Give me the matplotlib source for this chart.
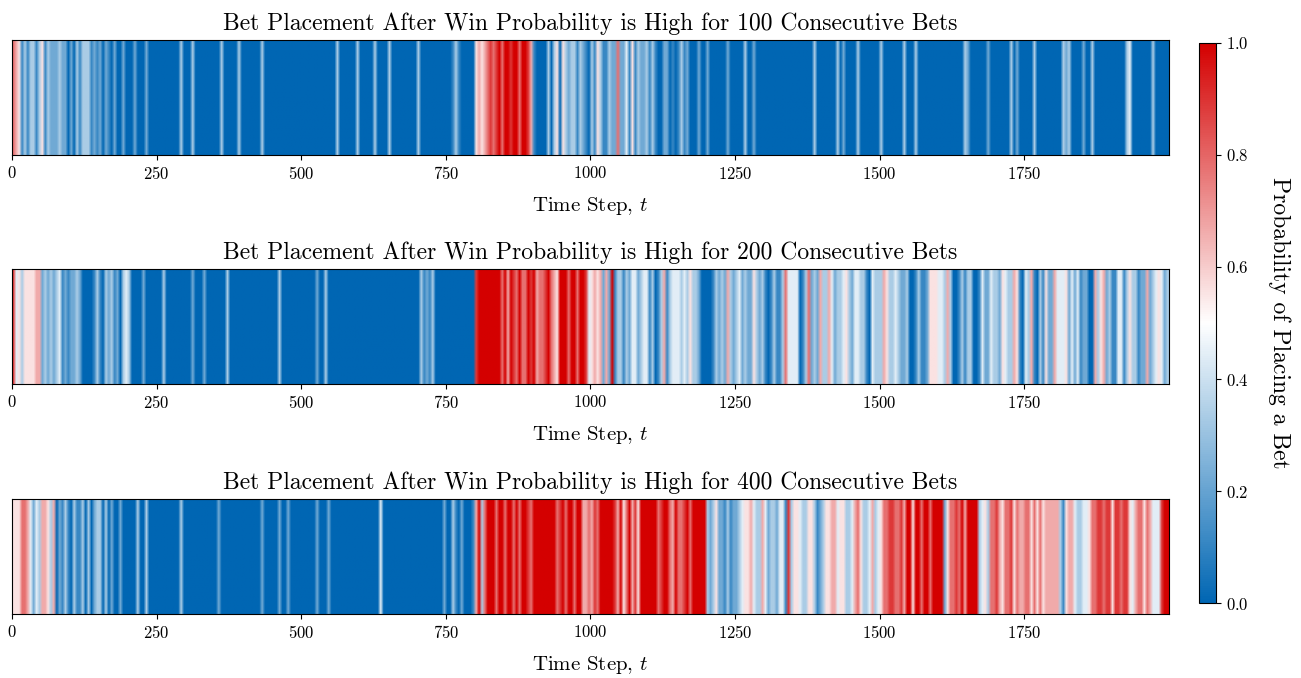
import numpy as np
import matplotlib
matplotlib.use("Agg")
import matplotlib.pyplot as plt
from matplotlib.colors import LinearSegmentedColormap

plt.rcParams['font.family'] = 'serif'
plt.rcParams['font.serif'] = ['cmr10']
plt.rcParams['mathtext.fontset'] = 'cm'
plt.rcParams['axes.formatter.use_mathtext'] = True

# Bet probability per block of 5 time steps, digit d -> d/9
# one string per 250-step stretch
streak_100 = [
    "76513133135132223220203133312120210200200020002000",
    "00000000300030000000003000003000000030000000000000",
    "00000000000030000003000003000030000000003000000000",
    "00131000005656787897998997998610000303505323313210",
    "31531132272241513223131002201013120002002000000200",
    "00030020000000000000000000030000000302000030000000",
    "30000000300030000000000000000320000002000000030200",
    "00030000000003230000200300000000000340000000300000",
]
streak_200 = [
    "84535555662323234121223200001310323120343000020000",
    "00300000000020002000000030000000000000000030000000",
    "00000200300000000000000000000000000000000312130000",
    "00000000008999999997969879779896778976599979979984",
    "56562629133132442344130136134443435332000013232632",
    "34232253231013113744440137232633642334532443310433",
    "36533432230013112555443630013133001422433254336510",
    "43610315226444524241220063562311441353312262345423",
]
streak_400 = [
    "55577642436653602131031130302330302002000003003000",
    "00000000300000000000020000000000000020000020020000",
    "00000200020000000000000000040000000000000000000002",
    "00310200016937999799799797998799999999789799799667",
    "68799999869579685999999789976977897999993235221312",
    "23455643364233244183554335531235566455334675334634",
    "57788778699599799799992577879699993453778657785766",
    "77575756666631566433445778878858878854677576444899",
]
titles = [
    "Bet Placement After Win Probability is High for 100 Consecutive Bets",
    "Bet Placement After Win Probability is High for 200 Consecutive Bets",
    "Bet Placement After Win Probability is High for 400 Consecutive Bets",
]
n_steps = 2000
xticks = [0, 250, 500, 750, 1000, 1250, 1500, 1750]

cmap = LinearSegmentedColormap.from_list('bet', ['#0066b3', '#ffffff', '#d40000'])

fig = plt.figure(figsize=(13.01, 6.78), dpi=100)
bottoms = [0.7714, 0.4336, 0.0944]

for rows, title, b in zip([streak_100, streak_200, streak_400], titles, bottoms):
    vals = np.array([int(c) for c in ''.join(rows)]) / 9.0
    ax = fig.add_axes([0.0092, b, 0.8893, 0.1696])
    im = ax.imshow(vals[np.newaxis, :], aspect='auto', cmap=cmap, vmin=0, vmax=1,
                   extent=(0, n_steps, 0, 1), interpolation='bilinear')
    ax.set_xlim(0, n_steps)
    ax.set_xticks(xticks)
    ax.set_yticks([])
    ax.tick_params(labelsize=12, pad=4)
    ax.set_title(title, fontsize=17, pad=7)
    ax.set_xlabel('Time Step, $t$', fontsize=15, labelpad=9)

cax = fig.add_axes([0.9216, 0.1106, 0.0131, 0.826])
cb = fig.colorbar(im, cax=cax, ticks=[0, 0.2, 0.4, 0.6, 0.8, 1.0])
cb.ax.tick_params(labelsize=12)
cb.set_label('Probability of Placing a Bet', rotation=270, fontsize=17, labelpad=30)

plt.savefig('out.png', dpi=100)
